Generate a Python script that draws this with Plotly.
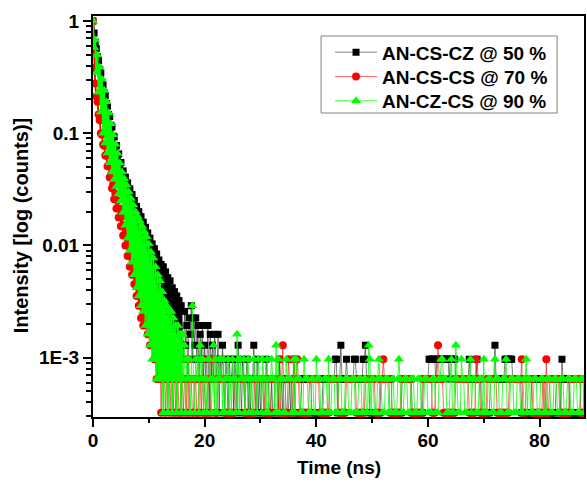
import plotly.graph_objects as go

# ---------------- data (counts per 0.2 ns channel) ----------------
T_STEP = 0.2          # ns per channel
PEAK = 3100           # counts at the maximum (normalisation)

series_names = ["AN-CS-CZ @ 50 %", "AN-CS-CS @ 70 %", "AN-CZ-CS @ 90 %"]
series_colors = ["#000000", "#FF0000", "#00FF00"]
series_symbols = ["square", "circle", "triangle-up"]
series_sizes = [7, 8, 9]
tail_line_widths = [0.5, 0.6, 0.8]

# AN-CS-CZ @ 50 %  (0 ... 16.0 ns)
black_decay = [3100, 2420, 2010, 1760, 1490, 1370, 1150, 1060, 890, 830,
               710, 670, 570, 540, 455, 437, 365, 352, 292, 287,
               236, 241, 197, 203, 160, 170, 131, 143, 112, 126,
               98, 112, 86, 99, 75, 88, 64, 78, 57, 69,
               50, 62, 44, 56, 38, 50, 33, 45, 30, 40,
               26, 36, 23, 32, 20, 29, 17, 26, 15, 23,
               13, 21, 12, 20, 10, 18, 9, 16, 8, 15,
               7, 13, 6, 12, 5, 11, 5, 10, 4, 9,
               4]
# 16.2 ... 88.0 ns, one digit per channel
black_tail = ["3846275937", "4736253624", "2361524253", "2513242132", "1322313214",
              "2213212312", "1224213121", "2211322112", "1122213221", "2211121223",
              "1111112222", "2222211111", "1111122222", "2222223312", "2422223222",
              "2223322222", "2334222111", "1111111222", "2222222111", "1111112222",
              "2222211111", "1111122222", "3333332333", "3333333323", "3333222222",
              "2222223222", "2223222111", "1111122224", "2222222233", "3333322222",
              "2221111111", "1122222222", "2221111111", "1111222213", "2222221111",
              "1111112222"]

# AN-CS-CS @ 70 %  (0 ... 12.0 ns)
red_decay = [3100, 1180, 860, 660, 590, 455, 405, 310, 300, 246,
             240, 196, 195, 157, 160, 125, 132, 100, 108, 80,
             90, 66, 78, 55, 66, 46, 56, 38, 47, 31,
             40, 25, 34, 20, 28, 17, 23, 14, 19, 11,
             16, 9, 14, 7, 12, 6, 10, 6, 9, 5,
             8, 4, 7, 4, 6, 3, 5, 2, 4, 2,
             3]
# 12.2 ... 88.0 ns
red_tail = ["1323122312", "2131221132", "1221312211", "2211221312", "1122133211",
            "1222222111", "1111112222", "2222211111", "1111222222", "2221111112",
            "2222213124", "1111322213", "2232111111", "1112222222", "2211111111",
            "1222222221", "1111112222", "2222211111", "1112222222", "2211112223",
            "2222211111", "1111122222", "2222111111", "1111222222", "2221112242",
            "2221111111", "1111222222", "2222221111", "1132221111", "1122222222",
            "2111111111", "1122222222", "2223111222", "2221111111", "1122131122",
            "2222222111", "1111112222", "2222221112"]

# AN-CZ-CS @ 90 %  (0 ... 16.0 ns)
green_decay = [3100, 1800, 2094, 1080, 1544, 720, 1203, 480, 937, 310,
               743, 253, 592, 207, 472, 169, 376, 140, 300, 120,
               247, 104, 204, 89, 168, 77, 140, 61, 122, 47,
               107, 36, 93, 28, 81, 22, 71, 17, 62, 13,
               56, 11, 51, 9, 46, 8, 41, 6, 37, 5,
               32, 4, 27, 3, 24, 3, 20, 2, 17, 2,
               15, 2, 12, 1, 10, 2, 9, 1, 8, 2,
               8, 1, 7, 2, 6, 1, 6, 2, 5, 1,
               5]
# 16.2 ... 88.0 ns
green_tail = ["2413231292", "1323142312", "2133212413", "1232313122", "3121322153",
              "1322312231", "2213221322", "1322131223", "2214131222", "1132222113",
              "1322211132", "2211122113", "2221112221", "3112221112", "2211122211",
              "1222111222", "1122114312", "2111232211", "1222111221", "1123211122",
              "2111222111", "2221112221", "1112221112", "2332221112", "3112421113",
              "2211122312", "2211122213", "1112221113", "2221112223", "1112221112",
              "2211122312", "2111222111", "2221112221", "1122211122", "2111222111",
              "2221112221"]

x_ticks = [0, 20, 40, 60, 80]
x_minor = [10, 30, 50, 70]
y_ticks = [1, 0.1, 0.01, 0.001]
y_ticktext = ["1", "0.1", "0.01", "1E-3"]
y_minor = [m * 10.0 ** e for e in (-4, -3, -2, -1) for m in range(2, 10)
           if 2.9e-4 < m * 10.0 ** e < 1]

x_title = "Time (ns)"
y_title = "Intensity [log (counts)]"

series_parts = [(black_decay, black_tail), (red_decay, red_tail), (green_decay, green_tail)]

# ---------------- figure ----------------
FONT = "Liberation Sans, Arial, sans-serif"
BOLD19 = dict(family=FONT, size=19, color="black", weight="bold")

# plot-area pixel geometry (figure 587 x 483)
L_PX, R_PX, T_PX, B_PX = 93, 586, 16, 417


def px_x(px):
    return (px - L_PX) / (R_PX - L_PX)


def px_y(py):
    return (B_PX - py) / (B_PX - T_PX)


fig = go.Figure()
legend_ids = ["legend", "legend2", "legend3"]
for k, (name, col, sym, size, lw, (decay, tail)) in enumerate(
        zip(series_names, series_colors, series_symbols, series_sizes,
            tail_line_widths, series_parts)):
    cnt = list(decay) + [int(ch) for ch in "".join(tail)]
    t = [round(i * T_STEP, 1) for i in range(len(cnt))]
    y = [c / PEAK for c in cnt]
    nd = len(decay)
    # decay part (dense zig-zag of the noisy data)
    fig.add_trace(go.Scatter(
        x=t[:nd], y=y[:nd], mode="lines+markers", name=name,
        legendgroup=name, showlegend=False,
        line=dict(color=col, width=1.8),
        marker=dict(symbol=sym, size=size, color=col, line=dict(width=0)),
    ))
    # background tail
    fig.add_trace(go.Scatter(
        x=t[nd - 1:], y=y[nd - 1:], mode="lines+markers", name=name,
        legendgroup=name, showlegend=True, legend=legend_ids[k],
        line=dict(color=col, width=lw),
        marker=dict(symbol=sym, size=size, color=col, line=dict(width=0)),
    ))

axis_common = dict(
    showline=True, linewidth=2, linecolor="black", mirror=True,
    showgrid=False, zeroline=False,
    ticks="outside", ticklen=8, tickwidth=2, tickcolor="black",
    tickfont=BOLD19,
)

row_centers = [52.3, 76.7, 101.0]
legend_layout = {}
for lid, yc in zip(legend_ids, row_centers):
    legend_layout[lid] = dict(x=px_x(331), y=px_y(yc), xanchor="left", yanchor="middle",
                              bgcolor="rgba(0,0,0,0)", borderwidth=0,
                              font=BOLD19, itemwidth=42)

fig.update_layout(
    width=587, height=483,
    margin=dict(l=L_PX, r=587 - R_PX, t=T_PX, b=483 - B_PX),
    paper_bgcolor="white", plot_bgcolor="white",
    font=BOLD19,
    xaxis=dict(range=[0, 87.95], tickmode="array", tickvals=x_ticks,
               ticklabelstandoff=-3,
               minor=dict(tickmode="array", tickvals=x_minor, ticks="outside",
                          ticklen=4, tickwidth=2, tickcolor="black", showgrid=False),
               **axis_common),
    yaxis=dict(type="log", range=[-3.529, 0.0446], tickmode="array",
               tickvals=y_ticks, ticktext=y_ticktext,
               minor=dict(tickmode="array", tickvals=y_minor, ticks="outside",
                          ticklen=5, tickwidth=2, tickcolor="black", showgrid=False),
               **axis_common),
    showlegend=True,
    shapes=[dict(type="rect", xref="paper", yref="paper",
                 x0=px_x(322), x1=px_x(559), y0=px_y(113), y1=px_y(36),
                 line=dict(color="#808080", width=1), fillcolor="white", layer="above")],
    annotations=[
        dict(text=x_title, xref="paper", yref="paper", x=px_x(340), y=px_y(467),
             xanchor="center", yanchor="middle", showarrow=False, font=BOLD19),
        dict(text=y_title, xref="paper", yref="paper", x=px_x(21), y=px_y(225),
             xanchor="center", yanchor="middle", showarrow=False, textangle=-90,
             font=dict(family=FONT, size=20, color="black", weight="bold")),
    ],
    **legend_layout,
)

fig.write_html("out.html", config={"displayModeBar": False},
               post_script="document.body.style.margin='0';document.body.style.padding='0';"
                           "document.body.style.overflow='hidden';")
